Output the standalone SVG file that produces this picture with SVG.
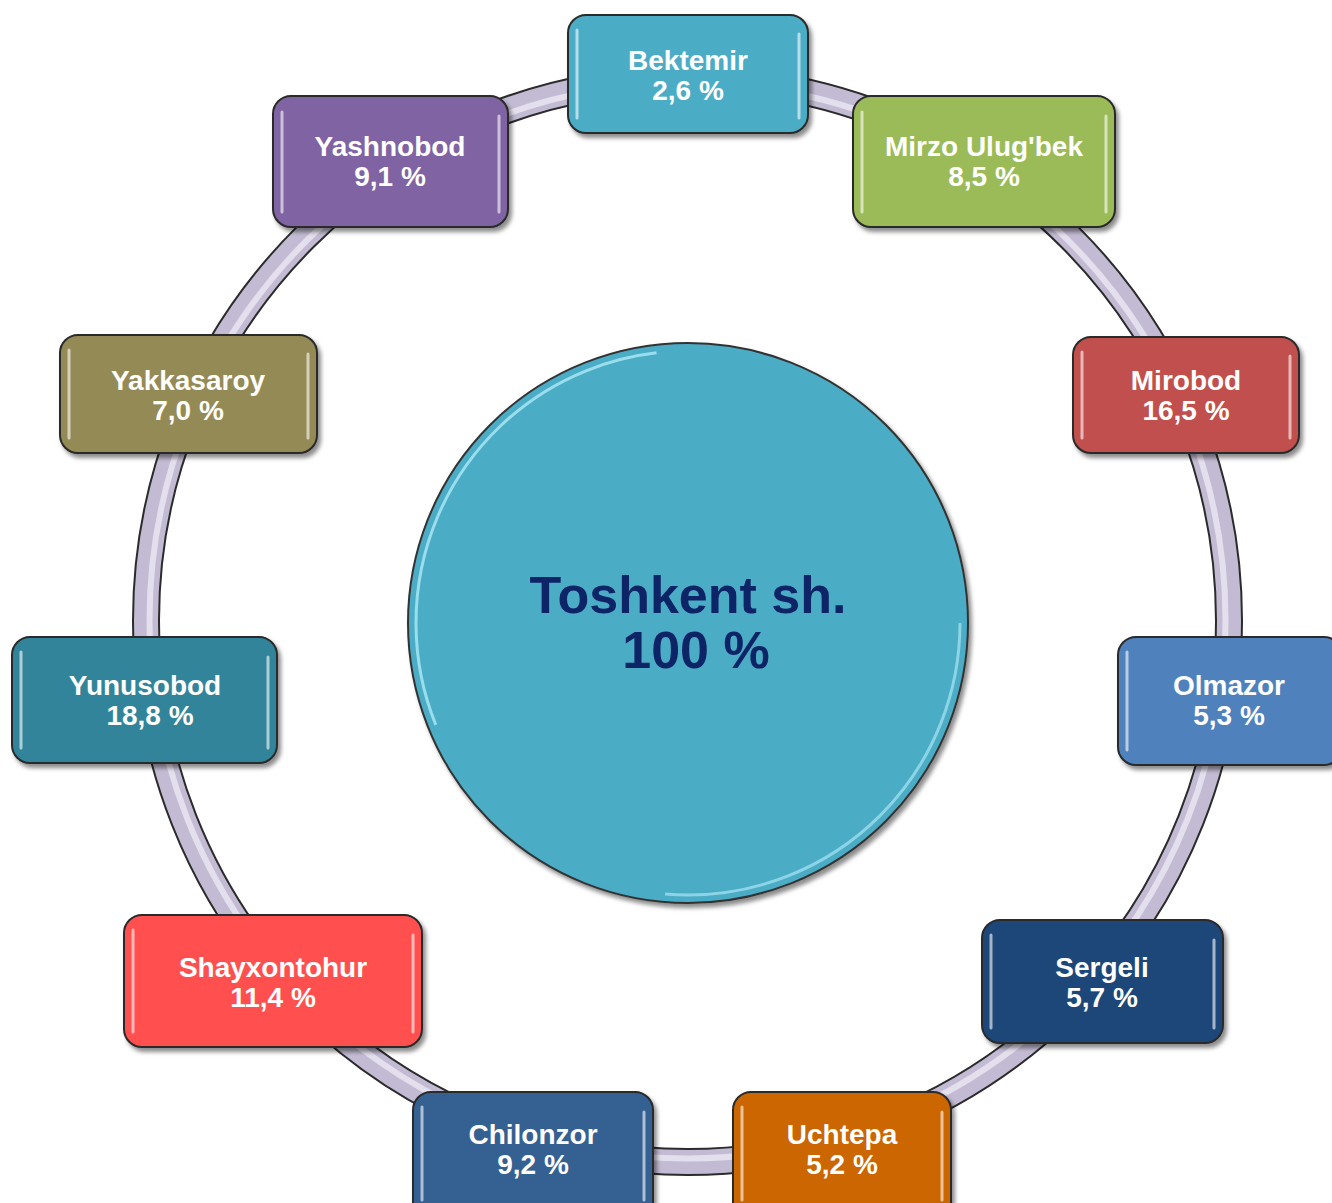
<svg xmlns="http://www.w3.org/2000/svg" width="1332" height="1203" viewBox="0 0 1332 1203">
<defs>
<filter id="sh" x="-10%" y="-10%" width="125%" height="130%">
<feDropShadow dx="3" dy="4" stdDeviation="2" flood-color="#000" flood-opacity="0.45"/>
</filter>
</defs>
<style>
.box{stroke:#2a2a2a;stroke-width:2;filter:url(#sh)}
.hl{stroke:#fff;stroke-width:3;stroke-linecap:round;opacity:0.6;fill:none}
.t{font-family:"Liberation Sans",Arial,sans-serif;font-weight:bold;font-size:28px;fill:#fff;text-anchor:middle}
.ct{font-family:"Liberation Sans",Arial,sans-serif;font-weight:bold;font-size:52px;fill:#0D2466;text-anchor:middle}
</style>
<rect width="1332" height="1203" fill="#fff"/>
<g id="connectors">
<circle cx="687.5" cy="620.5" r="541.5" fill="none" stroke="#2b2b2b" stroke-width="28"/>
<circle cx="687.5" cy="620.5" r="541.5" fill="none" stroke="#C3BBD3" stroke-width="24"/>
<circle cx="687.5" cy="620.5" r="538" fill="none" stroke="#E4DFEC" stroke-width="6"/>
</g>
<g id="center">
<circle cx="688" cy="623" r="280" fill="#4BACC6" stroke="#333" stroke-width="2" filter="url(#sh)"/>
<circle cx="688" cy="623" r="272" fill="none" stroke="#A8E6F4" stroke-width="3" stroke-dasharray="500 1300" transform="rotate(158 688 623)" opacity="0.85"/>
<circle cx="688" cy="623" r="272" fill="none" stroke="#A8E6F4" stroke-width="3" stroke-dasharray="450 1300" transform="rotate(0 688 623)" opacity="0.7"/>
<text class="ct" x="688" y="613">Toshkent sh.</text>
<text class="ct" x="696" y="668">100 %</text>
</g>
<g id="bektemir">
<rect class="box" x="568" y="15" width="240" height="118" rx="18" fill="#4BACC6"/>
<line class="hl" x1="577" y1="30" x2="577" y2="118"/><line class="hl" x1="799" y1="34" x2="799" y2="118"/>
<text class="t" x="688" y="70">Bektemir</text><text class="t" x="688" y="100">2,6 %</text>
</g>
<g id="mirzo">
<rect class="box" x="853" y="96" width="262" height="131" rx="18" fill="#9BBB59"/>
<line class="hl" x1="862" y1="112" x2="862" y2="212"/><line class="hl" x1="1106" y1="116" x2="1106" y2="212"/>
<text class="t" x="984" y="156">Mirzo Ulug'bek</text><text class="t" x="984" y="186">8,5 %</text>
</g>
<g id="mirobod">
<rect class="box" x="1073" y="337" width="226" height="116" rx="18" fill="#C0504D"/>
<line class="hl" x1="1082" y1="352" x2="1082" y2="438"/><line class="hl" x1="1290" y1="356" x2="1290" y2="438"/>
<text class="t" x="1186" y="390">Mirobod</text><text class="t" x="1186" y="420">16,5 %</text>
</g>
<g id="olmazor">
<rect class="box" x="1118" y="637" width="224" height="128" rx="18" fill="#4F81BD"/>
<line class="hl" x1="1127" y1="652" x2="1127" y2="750"/>
<text class="t" x="1229" y="695">Olmazor</text><text class="t" x="1229" y="725">5,3 %</text>
</g>
<g id="sergeli">
<rect class="box" x="982" y="920" width="241" height="123" rx="18" fill="#1F4778"/>
<line class="hl" x1="991" y1="935" x2="991" y2="1028"/><line class="hl" x1="1214" y1="940" x2="1214" y2="1028"/>
<text class="t" x="1102" y="977">Sergeli</text><text class="t" x="1102" y="1007">5,7 %</text>
</g>
<g id="uchtepa">
<rect class="box" x="733" y="1092" width="218" height="130" rx="18" fill="#CC6600"/>
<line class="hl" x1="742" y1="1107" x2="742" y2="1200"/><line class="hl" x1="942" y1="1112" x2="942" y2="1200"/>
<text class="t" x="842" y="1144">Uchtepa</text><text class="t" x="842" y="1174">5,2 %</text>
</g>
<g id="chilonzor">
<rect class="box" x="413" y="1092" width="240" height="130" rx="18" fill="#366092"/>
<line class="hl" x1="422" y1="1107" x2="422" y2="1200"/><line class="hl" x1="644" y1="1112" x2="644" y2="1200"/>
<text class="t" x="533" y="1144">Chilonzor</text><text class="t" x="533" y="1174">9,2 %</text>
</g>
<g id="shayxontohur">
<rect class="box" x="124" y="915" width="298" height="132" rx="18" fill="#FF5050"/>
<line class="hl" x1="133" y1="930" x2="133" y2="1032"/><line class="hl" x1="413" y1="935" x2="413" y2="1032"/>
<text class="t" x="273" y="977">Shayxontohur</text><text class="t" x="273" y="1007">11,4 %</text>
</g>
<g id="yunusobod">
<rect class="box" x="12" y="637" width="265" height="126" rx="18" fill="#31849B"/>
<line class="hl" x1="21" y1="652" x2="21" y2="748"/><line class="hl" x1="268" y1="657" x2="268" y2="748"/>
<text class="t" x="145" y="695">Yunusobod</text><text class="t" x="150" y="725">18,8 %</text>
</g>
<g id="yakkasaroy">
<rect class="box" x="60" y="335" width="257" height="118" rx="18" fill="#948A54"/>
<line class="hl" x1="69" y1="350" x2="69" y2="438"/><line class="hl" x1="308" y1="354" x2="308" y2="438"/>
<text class="t" x="188" y="390">Yakkasaroy</text><text class="t" x="188" y="420">7,0 %</text>
</g>
<g id="yashnobod">
<rect class="box" x="273" y="96" width="235" height="131" rx="18" fill="#8064A2"/>
<line class="hl" x1="282" y1="112" x2="282" y2="212"/><line class="hl" x1="499" y1="116" x2="499" y2="212"/>
<text class="t" x="390" y="156">Yashnobod</text><text class="t" x="390" y="186">9,1 %</text>
</g>
</svg>
